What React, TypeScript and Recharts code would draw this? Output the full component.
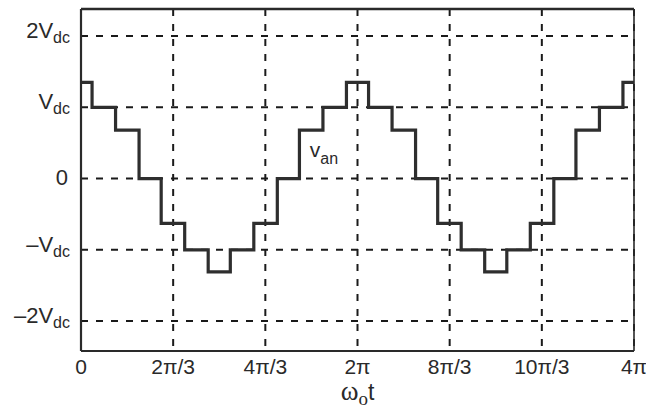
import React from "react";
import { LineChart, Line, XAxis, YAxis, CartesianGrid, ReferenceLine, ReferenceDot, Label } from "recharts";

// time in units of π
const timePi = [0, 0.08, 0.25, 0.42, 0.58, 0.75, 0.92, 1.08, 1.25, 1.42, 1.58, 1.75, 1.92, 2.08, 2.25, 2.42, 2.58, 2.75, 2.92, 3.08, 3.25, 3.42, 3.58, 3.75, 3.92, 4.0];
// v_an in units of Vdc
const vanValues = [1.35, 1.0, 0.68, 0, -0.63, -1.0, -1.31, -1.0, -0.63, 0, 0.68, 1.0, 1.35, 1.0, 0.68, 0, -0.63, -1.0, -1.31, -1.0, -0.63, 0, 0.68, 1.0, 1.35, 1.35];

const xTickValues = [0, 2 / 3, 4 / 3, 2, 8 / 3, 10 / 3, 4];
const xTickLabels = ["0", "2\u03c0/3", "4\u03c0/3", "2\u03c0", "8\u03c0/3", "10\u03c0/3", "4\u03c0"];

const yTickValues = [-2, -1, 0, 1, 2];
const yTickMain = ["\u20132V", "\u2013V", "0", "V", "2V"];
const yTickSub = ["dc", "dc", "", "dc", "dc"];

const seriesLabel = { main: "v", sub: "an", x: 1.655, y: 0.305 };
const axisLabel = { main: "\u03c9", sub: "o", tail: "t" };

const data = timePi.map((t, i) => ({ t, v: vanValues[i] }));

const FONT = "'Liberation Sans', Arial, Helvetica, sans-serif";
const SERIF = "'Liberation Serif', 'Times New Roman', serif";
const INK = "#2a2a2a";

const XTick = (props: any) => {
  const { x, y, index } = props;
  return (
    <text x={x} y={y + 23} textAnchor="middle" fontFamily={FONT} fontSize={21} fill={INK}>
      {xTickLabels[index]}
    </text>
  );
};

const YTick = (props: any) => {
  const { x, y, payload } = props;
  const i = yTickValues.findIndex((v) => Math.abs(v - payload.value) < 1e-6);
  const main = yTickMain[i];
  const sub = yTickSub[i];
  if (!sub) {
    return (
      <text x={x - 2} y={y + 6} textAnchor="end" fontFamily={FONT} fontSize={22} fill={INK}>
        {main}
      </text>
    );
  }
  return (
    <text x={x} y={y + 2} textAnchor="end" fontFamily={FONT} fontSize={22} fill={INK}>
      <tspan>{main}</tspan>
      <tspan fontSize={16} dy={5}>{sub}</tspan>
    </text>
  );
};

const XAxisTitle = (props: any) => {
  const vb = props.viewBox;
  const cx = vb.x + vb.width / 2;
  const y = vb.y + 49;
  return (
    <text x={cx} y={y} textAnchor="middle" fontFamily={FONT} fontSize={23} fill={INK}>
      <tspan fontFamily={SERIF} fontSize={27}>{axisLabel.main}</tspan>
      <tspan fontFamily={SERIF} fontSize={19} dy={5}>{axisLabel.sub}</tspan>
      <tspan dy={-5}>{axisLabel.tail}</tspan>
    </text>
  );
};

const SeriesName = (props: any) => {
  const vb = props.viewBox;
  const cx = vb.x + (vb.width || 0) / 2;
  const cy = vb.y + (vb.height || 0) / 2;
  return (
    <text x={cx} y={cy} textAnchor="start" fontFamily={FONT} fontSize={21} fill={INK}>
      <tspan>{seriesLabel.main}</tspan>
      <tspan fontSize={16} dy={7}>{seriesLabel.sub}</tspan>
    </text>
  );
};

export default function App() {
  return (
    <div style={{ position: "absolute", left: 0, top: 0, width: 646, height: 412, background: "#fff" }}>
      <LineChart width={646} height={412} data={data} margin={{ top: 9, right: 12, bottom: 0, left: 0 }}>
        <CartesianGrid stroke="#1a1a1a" strokeWidth={2} strokeDasharray="7 8" />
        <XAxis
          dataKey="t"
          type="number"
          domain={[0, 4]}
          ticks={xTickValues}
          interval={0}
          height={61}
          tickSize={0}
          tickMargin={0}
          tickLine={false}
          axisLine={{ stroke: INK, strokeWidth: 2.2 }}
          tick={<XTick />}
          allowDataOverflow
        >
          <Label content={<XAxisTitle />} />
        </XAxis>
        <YAxis
          type="number"
          domain={[-2.42, 2.38]}
          ticks={yTickValues}
          interval={0}
          width={81}
          tickSize={0}
          tickMargin={11}
          tickLine={false}
          axisLine={{ stroke: INK, strokeWidth: 2.2 }}
          tick={<YTick />}
          allowDataOverflow
        />
        <ReferenceLine y={2.38} stroke={INK} strokeWidth={2.5} />
        <ReferenceLine x={4} stroke={INK} strokeWidth={1.6} />
        <Line
          type="stepAfter"
          dataKey="v"
          stroke="#2e2e2e"
          strokeWidth={3.2}
          dot={false}
          isAnimationActive={false}
        />
        <ReferenceDot x={seriesLabel.x} y={seriesLabel.y} r={0} fill="none" stroke="none">
          <Label content={<SeriesName />} />
        </ReferenceDot>
      </LineChart>
    </div>
  );
}
